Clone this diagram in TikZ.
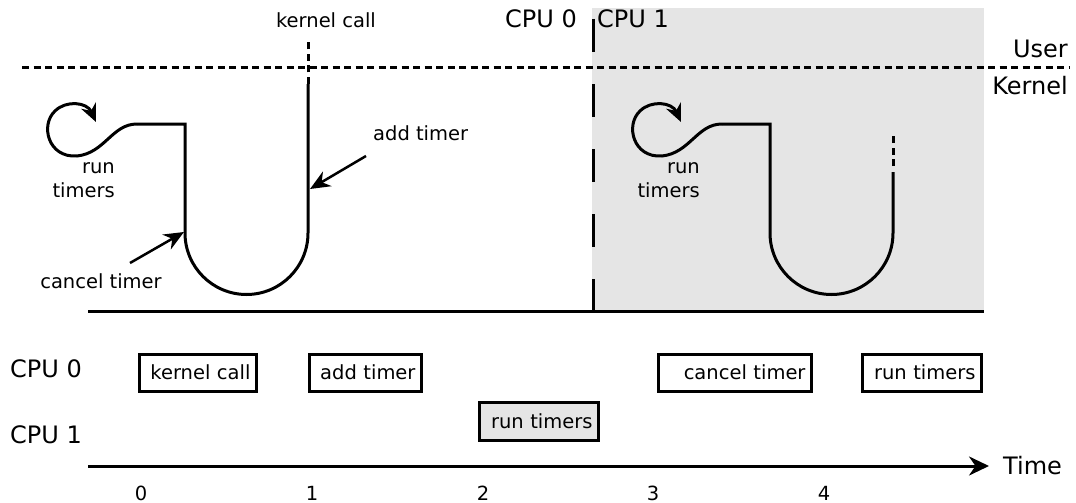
\documentclass[tikz,border=0pt]{standalone}
\usepackage{fontspec}
\setmainfont{DejaVu Sans}
\usetikzlibrary{arrows.meta}
\begin{document}
\begin{tikzpicture}[x=1pt,y=-1pt,
  curve/.style={line width=3pt},
  dots/.style={line width=3pt, dash pattern=on 7pt off 4.5pt},
  longdash/.style={line width=3pt, dash pattern=on 33pt off 32pt},
  smalltxt/.style={font=\fontsize{19.5}{24}\selectfont, inner sep=0pt},
  bigtxt/.style={font=\fontsize{24}{28}\selectfont, inner sep=0pt},
  pointer/.style={line width=2.5pt, -{Stealth[length=20pt,width=17pt]}},
  looparrow/.style={line width=3pt, -{Stealth[length=18pt,width=16pt]}},
  tbox/.style={draw, line width=3pt, smalltxt, align=right, inner xsep=6pt, inner ysep=0pt, minimum height=37pt, anchor=center},
]
\useasboundingbox (0,0) rectangle (1076,503);
% CPU 1 background
\fill[gray!20] (592,8) rectangle (984,311);
% user/kernel boundary
\coordinate (ukL) at (22,68);
\coordinate (ukR) at (1070,68);
\draw[dots] (ukL) -- (ukR);
\node[bigtxt, anchor=east] (user) at (1068,49) {User};
\node[bigtxt, anchor=east] (kern) at (1068,86) {Kernel};
% CPU split
\coordinate (sT) at (593,19);
\coordinate (sB) at (593,312);
\draw[longdash] (sT) -- (sB);
\node[bigtxt] (cpu0t) at (541,19) {CPU 0};
\node[bigtxt] (cpu1t) at (633,19) {CPU 1};
% base line
\coordinate (bL) at (88,311);
\coordinate (bR) at (984,311);
\draw[curve] (bL) -- (bR);

% ---- left scene ----
\coordinate (a0) at (137,124);
\coordinate (a1) at (185,124);
\coordinate (a2) at (185,233);
\coordinate (a3) at (308,84);
\coordinate (a4) at (308,42);
\coordinate (atip) at (96,122);
\draw[looparrow] (a0) .. controls (112,124) and (105,153) .. (77,156)
   .. controls (48,158) and (40,125) .. (55,111)
   .. controls (66,100) and (87,102) .. (atip);
\draw[curve] (a0) -- (a1) -- (a2) arc[start angle=180, end angle=360, radius=61.5pt] -- (a3);
\draw[dots] (a3) -- (a4);
\node[smalltxt, align=right, anchor=east] (rtL) at (115,180) {run\\timers};
\node[smalltxt] (kcall) at (326,20) {kernel call};
\node[smalltxt, anchor=west] (addl) at (373,133) {add timer};
\coordinate (addtail) at (366,156);
\coordinate (addtip) at (310,189);
\draw[pointer] (addtail) -- (addtip);
\node[smalltxt] (cancl) at (101,281) {cancel timer};
\coordinate (cantail) at (130,263);
\coordinate (cantip) at (184,232);
\draw[pointer] (cantail) -- (cantip);

% ---- right scene ----
\coordinate (b0) at (722,124);
\coordinate (b1) at (770,124);
\coordinate (b2) at (770,233);
\coordinate (b3) at (893,172);
\coordinate (b4) at (893,166);
\coordinate (b5) at (893,133);
\coordinate (btip) at (681,122);
\draw[looparrow] (b0) .. controls (697,124) and (690,153) .. (662,156)
   .. controls (633,158) and (625,125) .. (640,111)
   .. controls (651,100) and (672,102) .. (btip);
\draw[curve] (b0) -- (b1) -- (b2) arc[start angle=180, end angle=360, radius=61.5pt] -- (b3);
\draw[dots] (b4) -- (b5);
\node[smalltxt, align=right, anchor=east] (rtR) at (700,180) {run\\timers};

% ---- timeline ----
\node[bigtxt, anchor=west] (cpu0) at (10,369) {CPU 0};
\node[bigtxt, anchor=west] (cpu1) at (10,435) {CPU 1};
\node[tbox, minimum width=117pt, text width=105pt] (k1) at (198,372.5) {kernel call};
\node[tbox, minimum width=112pt, text width=100pt] (k2) at (365.5,372.5) {add timer};
\node[tbox, fill=gray!20, minimum width=119pt, minimum height=38pt, text width=107pt] (k3) at (539,421.5) {run timers};
\node[tbox, minimum width=153pt, text width=141pt] (k4) at (735,372.5) {cancel timer};
\node[tbox, minimum width=119pt, text width=107pt] (k5) at (922,372.5) {run timers};

\coordinate (tL) at (88,466);
\coordinate (tR) at (989,466);
\draw[line width=3pt, -{Stealth[length=20pt,width=19pt]}] (tL) -- (tR);
\node[bigtxt, anchor=west] (time) at (1003,466) {Time};
\node[smalltxt] (t0) at (141,493) {0};
\node[smalltxt] (t1) at (312,493) {1};
\node[smalltxt] (t2) at (483,493) {2};
\node[smalltxt] (t3) at (653,493) {3};
\node[smalltxt] (t4) at (824,493) {4};
\end{tikzpicture}
\end{document}
